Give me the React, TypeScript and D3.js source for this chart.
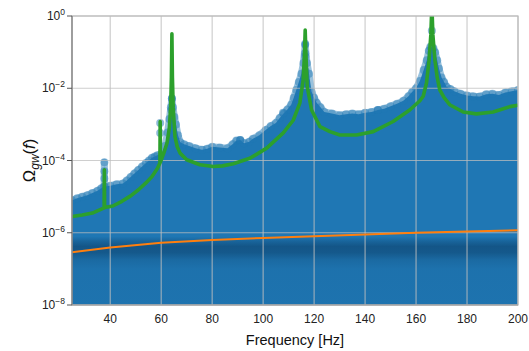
import React from 'react';
import * as d3 from 'd3';

// green line: resonance model (Hz, Omega)
const greenPts: [number, number][] = [
  [25, 2.8e-6], [29, 3.1e-6], [33, 3.5e-6], [37.4, 4.8e-6], [37.6, 4.9e-6], [37.7, 5.5e-5], [37.8, 5e-6],
  [41, 5.5e-6], [44.6, 7.4e-6], [48, 1.05e-5], [51.1, 1.55e-5], [54, 2.4e-5], [56.4, 3.6e-5],
  [58.5, 6e-5], [59.5, 8.5e-5], [59.6, 1.2e-3], [59.7, 9e-5], [61, 1.6e-4], [62.3, 3.1e-4],
  [63.2, 8e-4], [63.7, 3e-3], [64.0, 2e-2], [64.2, 0.32], [64.4, 2e-2], [64.7, 3e-3],
  [65.4, 4.6e-4], [66.3, 2.4e-4], [67.4, 1.6e-4], [70, 1.05e-4], [75.2, 7.6e-5], [80.4, 6.8e-5],
  [84, 7.1e-5], [88.3, 8.1e-5], [94.8, 1.15e-4], [101.4, 2.2e-4], [107.9, 5.8e-4],
  [111.8, 1.3e-3], [114.4, 3.9e-3], [115.7, 1.7e-2], [116.2, 8e-2], [116.5, 0.41], [116.8, 8e-2],
  [117.3, 1.1e-2], [119, 2.5e-3], [122.3, 8.7e-4], [126.2, 6.3e-4], [130.1, 5.1e-4],
  [136.6, 5.1e-4], [143.2, 6.3e-4], [151, 1.2e-3], [157.5, 2.5e-3], [161.5, 4.5e-3],
  [162.8, 6e-3], [164.1, 1.4e-2], [165.1, 6e-2], [165.8, 0.3], [166.2, 2], [166.6, 0.3],
  [167.4, 6e-2], [168.3, 2e-2], [169.3, 9e-3], [171, 5.5e-3], [173.2, 3.5e-3], [178.5, 2.2e-3],
  [183.7, 1.95e-3], [190.2, 2.2e-3], [196.8, 3.1e-3], [200, 3.4e-3],
];

// upper envelope of the blue posterior samples
const envelopePts: [number, number][] = [
  [25, 8e-6], [27, 9e-6], [29, 1e-5], [31, 1.1e-5], [33, 1.25e-5], [35, 1.45e-5], [36.5, 1.7e-5],
  [37.6, 1.9e-5], [37.7, 9e-5], [37.8, 1.9e-5], [40, 2e-5], [42.5, 2.2e-5], [45, 2.3e-5],
  [46.5, 2.8e-5], [48, 3.5e-5], [49.5, 4.4e-5], [51, 5.5e-5], [52.5, 6.8e-5], [54, 8.5e-5],
  [55.2, 1e-4], [56.4, 1.2e-4], [57.5, 1.3e-4], [58.5, 1.4e-4], [60.3, 1.6e-4], [61.5, 2.5e-4],
  [62.5, 6e-4], [63.2, 1.4e-3], [63.8, 3e-3], [64.2, 5.2e-3], [64.6, 3e-3], [65.2, 1.6e-3],
  [65.8, 1e-3], [66.6, 5e-4], [67.5, 3.2e-4], [69, 2.8e-4], [71, 2.5e-4], [73.5, 2.2e-4],
  [76, 2e-4], [78, 2.1e-4], [80, 2.4e-4], [83, 2.3e-4], [86, 2.2e-4], [88, 2.8e-4], [89.5, 3.6e-4],
  [91, 3.7e-4], [92.5, 3e-4], [94.5, 3.3e-4], [96, 4e-4], [98.5, 5e-4], [101, 7e-4],
  [103, 9e-4], [105, 1.1e-3], [106.5, 1.5e-3], [108, 2e-3], [109.5, 2.6e-3], [111, 3.5e-3],
  [112, 5.5e-3], [113, 9e-3], [114, 1.5e-2], [115, 2.5e-2], [115.8, 5e-2], [116.5, 0.16],
  [117.2, 5e-2], [118, 2.5e-2], [119, 8e-3], [120, 5.5e-3], [121, 4e-3], [122.5, 3e-3],
  [124, 2.2e-3], [127, 2e-3], [130, 1.8e-3], [132.5, 1.9e-3], [135, 2e-3], [137.5, 1.9e-3],
  [140, 2.1e-3], [142.5, 2.2e-3], [145, 2.5e-3], [147.5, 2.7e-3], [150, 3.2e-3], [152.5, 3.7e-3],
  [155, 4.5e-3], [157, 6e-3], [158.5, 8e-3], [160, 1e-2], [161.5, 1.6e-2], [163, 3.2e-2],
  [164.2, 6e-2], [165, 0.11], [165.6, 0.14], [166.8, 0.13], [167.5, 0.1], [168.3, 6e-2],
  [169, 3.5e-2], [170, 2e-2], [171, 1.5e-2], [172, 1.1e-2], [173.5, 9.5e-3], [175, 8.3e-3],
  [177.5, 7e-3], [180, 6.3e-3], [182.5, 6e-3], [185, 5.9e-3], [187.5, 6.8e-3], [190, 7e-3],
  [192.5, 6.5e-3], [195, 7.6e-3], [197.5, 8.2e-3], [200, 9e-3],
];

// isolated samples sticking out above the envelope
const outlierPts: [number, number][] = [
  [37.7, 5e-5], [37.7, 3.2e-5], [59.6, 1.1e-3], [59.6, 5.8e-4], [64.2, 5.2e-3], [64.0, 2.5e-3],
  [116.5, 0.17], [116.5, 0.093], [116.5, 0.076], [116.6, 0.03], [116.4, 0.02],
  [166.2, 0.39], [166.0, 0.095], [166.4, 0.06], [107.8, 2.1e-3], [145, 2.5e-3], [91, 3.7e-4],
];

// orange power-law sensitivity curve
const orangeFreq = [25, 40, 60, 80, 100, 120, 140, 160, 180, 200];
const orangeVal = [2.9e-7, 3.9e-7, 5.3e-7, 6.3e-7, 7.2e-7, 8e-7, 8.9e-7, 1e-6, 1.08e-6, 1.17e-6];

const xTicks = [40, 60, 80, 100, 120, 140, 160, 180, 200];
const yTickExp = [0, -2, -4, -6, -8];

const W = 529;
const H = 351;
const margin = { top: 16, right: 11, bottom: 46, left: 72 };
const innerW = W - margin.left - margin.right;
const innerH = H - margin.top - margin.bottom;

const blue = '#1f77b4';
const font = '"Liberation Sans", Arial, sans-serif';

export default function App() {
  const x = d3.scaleLinear().domain([25, 200]).range([0, innerW]);
  const y = d3.scaleLog().domain([1e-8, 1]).range([innerH, 0]);

  const area = d3.area<[number, number]>()
    .x(d => x(d[0]))
    .y0(innerH)
    .y1(d => y(d[1]));

  const line = d3.line<[number, number]>()
    .x(d => x(d[0]))
    .y(d => y(d[1]));

  const orange: [number, number][] = orangeFreq.map((f, i) => [f, orangeVal[i]]);

  // dark band of the posterior density, positioned via the y scale
  const bandStops = [
    { v: 10 ** -6.1, o: 0 },
    { v: 10 ** -6.25, o: 0.3 },
    { v: 10 ** -6.38, o: 0.5 },
    { v: 10 ** -6.55, o: 0.45 },
    { v: 10 ** -6.75, o: 0.2 },
    { v: 10 ** -7.0, o: 0.08 },
    { v: 1e-8, o: 0.06 },
  ];
  const bandTop = y(bandStops[0].v);
  const bandBot = y(1e-8);

  const gridColor = '#bdbdbd';

  return (
    <svg width={W} height={H} style={{ position: 'absolute', left: 0, top: 0 }} fontFamily={font}>
      <defs>
        <clipPath id="plotClip">
          <rect x={0} y={0} width={innerW} height={innerH} />
        </clipPath>
        <linearGradient id="bandGrad" gradientUnits="userSpaceOnUse" x1={0} x2={0} y1={bandTop} y2={bandBot}>
          {bandStops.map((s, i) => (
            <stop key={i} offset={(y(s.v) - bandTop) / (bandBot - bandTop)} stopColor="#08345a" stopOpacity={s.o} />
          ))}
        </linearGradient>
      </defs>
      <rect width={W} height={H} fill="#fff" />
      <g transform={`translate(${margin.left},${margin.top})`}>
        <g clipPath="url(#plotClip)">
          <path d={line(envelopePts) ?? ''} fill="none" stroke={blue} strokeOpacity={0.45} strokeWidth={7} strokeLinejoin="round" />
          <path d={area(envelopePts) ?? ''} fill={blue} />
          <rect x={0} y={bandTop} width={innerW} height={bandBot - bandTop} fill="url(#bandGrad)" />
          {envelopePts.map((d, i) => (
            <circle key={'e' + i} cx={x(d[0])} cy={y(d[1])} r={4} fill={blue} fillOpacity={0.45} />
          ))}
          {outlierPts.map((d, i) => (
            <circle key={'o' + i} cx={x(d[0])} cy={y(d[1])} r={4} fill={blue} fillOpacity={0.5} />
          ))}
        </g>
        {/* grid */}
        {xTicks.map(t => (
          <line key={'gx' + t} x1={x(t)} x2={x(t)} y1={0} y2={innerH} stroke={gridColor} strokeOpacity={0.75} strokeWidth={1.2} />
        ))}
        {yTickExp.map(e => (
          <line key={'gy' + e} x1={0} x2={innerW} y1={y(10 ** e)} y2={y(10 ** e)} stroke={gridColor} strokeOpacity={0.75} strokeWidth={1.2} />
        ))}
        <g clipPath="url(#plotClip)">
          <path d={line(greenPts) ?? ''} fill="none" stroke="#2ca02c" strokeWidth={3.6} strokeLinejoin="round" />
          <path d={line(orange) ?? ''} fill="none" stroke="#ff7f0e" strokeWidth={2} />
        </g>
        {/* frame */}
        <rect x={0} y={0} width={innerW} height={innerH} fill="none" stroke="#bdbdbd" strokeWidth={1.2} />
        <line x1={0} x2={0} y1={0} y2={innerH} stroke="#777" strokeWidth={1.2} />
        <line x1={0} x2={innerW} y1={innerH} y2={innerH} stroke="#999" strokeWidth={1} />
        {/* y ticks */}
        {yTickExp.map(e => (
          <g key={'yt' + e} transform={`translate(0,${y(10 ** e)})`}>
            <line x1={-5} x2={0} stroke="#555" strokeWidth={1} />
            <text x={-7} dy="0.35em" textAnchor="end" fontSize={12} fill="#222">
              10<tspan dy={-5} fontSize={8.5}>{e === 0 ? '0' : '\u2212' + Math.abs(e)}</tspan>
            </text>
          </g>
        ))}
        {/* x ticks */}
        {xTicks.map(t => (
          <text key={'xt' + t} x={x(t)} y={innerH + 18} textAnchor="middle" fontSize={12} fill="#222">{t}</text>
        ))}
        <text x={innerW / 2} y={innerH + 40} textAnchor="middle" fontSize={14.5} fill="#111">Frequency [Hz]</text>
        <text transform={`translate(${-37},${y(1e-4)}) rotate(-90)`} textAnchor="middle" fontSize={16.5} fill="#111">
          Ω<tspan fontStyle="italic" fontSize={12} dy={4}>gw</tspan><tspan dy={-4}>(</tspan><tspan fontStyle="italic">f</tspan>)
        </text>
      </g>
    </svg>
  );
}
